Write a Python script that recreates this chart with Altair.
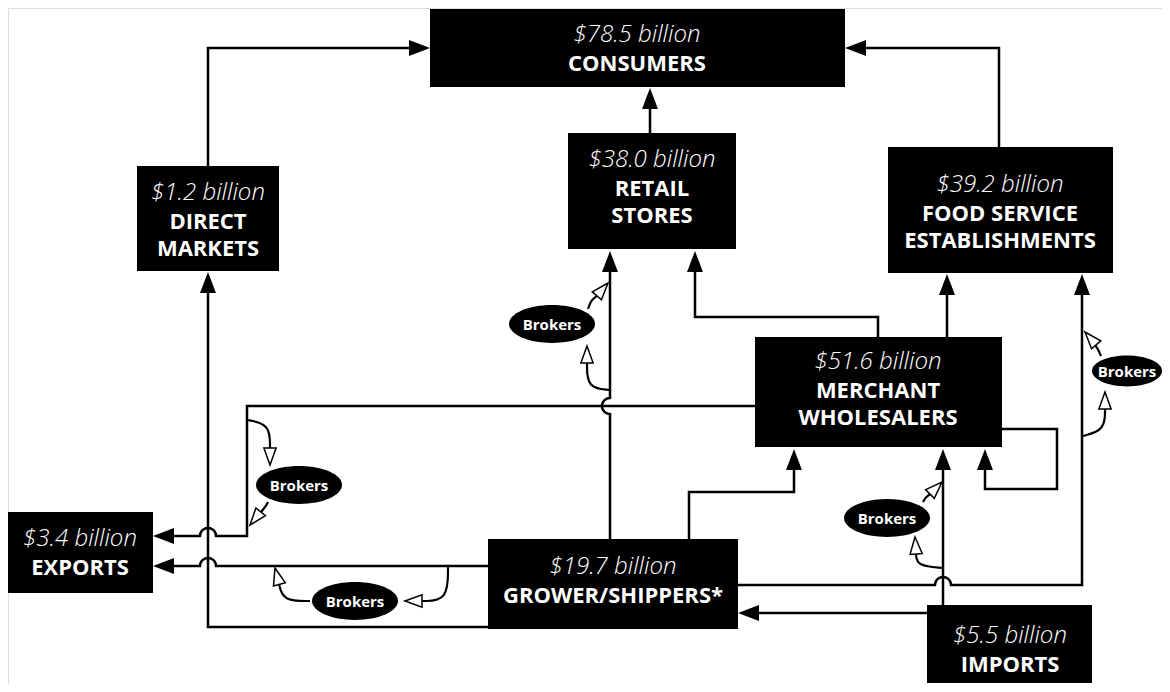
import altair as alt
import pandas as pd
import numpy as np

# ---------------- values shown in the chart ----------------
segments = ["CONSUMERS", "RETAIL STORES", "FOOD SERVICE ESTABLISHMENTS", "DIRECT MARKETS",
            "MERCHANT WHOLESALERS", "EXPORTS", "GROWER/SHIPPERS*", "IMPORTS"]
segment_lines = [["CONSUMERS"], ["RETAIL", "STORES"], ["FOOD SERVICE", "ESTABLISHMENTS"],
                 ["DIRECT", "MARKETS"], ["MERCHANT", "WHOLESALERS"], ["EXPORTS"],
                 ["GROWER/SHIPPERS*"], ["IMPORTS"]]
sales_billion = [78.5, 38.0, 39.2, 1.2, 51.6, 3.4, 19.7, 5.5]
broker_label = "Brokers"

# ---------------- diagram layout (pixel positions) ----------------
box_rect = [(430, 9, 845, 87), (568, 133, 736, 249), (888, 147, 1113, 273), (137, 166, 279, 271),
            (755, 337, 1002, 447), (7, 512, 153, 593), (488, 539, 738, 629), (927, 605, 1092, 683)]
box_label_at = [(637, 42), (652, 167), (1000, 192), (208, 200), (878, 369), (80, 546), (613, 574), (1010, 643)]

HOP_R = 8


def hhop(xc, y, left_to_right):
    t = np.linspace(np.pi, 0, 13) if left_to_right else np.linspace(0, np.pi, 13)
    return [(xc + HOP_R * np.cos(a), y - HOP_R * np.sin(a)) for a in t]


def vhop_up(x, yc):
    t = np.linspace(0, np.pi, 13)
    return [(x - HOP_R * np.sin(a), yc + HOP_R * np.cos(a)) for a in t]


flow_paths = {
    "dm_cons": [(208, 166), (208, 48), (420, 48)],
    "fs_cons": [(999, 147), (999, 48), (855, 48)],
    "ret_cons": [(650, 133), (650, 98)],
    "gr_dm": [(488, 627), (208, 627), (208, 282)],
    "gr_ret": [(610, 539)] + vhop_up(610, 406) + [(610, 261)],
    "mw_ret": [(878, 337), (878, 317), (695, 317), (695, 261)],
    "mw_fs": [(947, 337), (947, 284)],
    "gr_fs": [(738, 585)] + hhop(943, 585, True) + [(1082, 585), (1082, 284)],
    "mw_exp": [(755, 406), (247, 406), (247, 536)] + hhop(208, 536, False) + [(163, 536)],
    "gr_exp": [(488, 566)] + hhop(208, 566, False) + [(163, 566)],
    "gr_mw": [(689, 539), (689, 492), (794, 492), (794, 459)],
    "im_mw": [(943, 605), (943, 459)],
    "im_gr": [(927, 613), (748, 613)],
    "mw_loop": [(1002, 429), (1057, 429), (1057, 489), (985, 489), (985, 459)],
}

# filled arrow heads: tip x, tip y, angle (0 = up, clockwise)
solid_heads = [(430, 48, 90), (845, 48, 270), (650, 88, 0), (208, 272, 0), (610, 251, 0),
               (695, 251, 0), (947, 274, 0), (1082, 274, 0), (153, 536, 270), (153, 566, 270),
               (794, 449, 0), (943, 449, 0), (738, 613, 270), (985, 449, 0)]

broker_at = [(552, 324), (1127, 371), (299, 485), (355, 601), (887, 518)]
broker_w = [86, 70, 86, 86, 86]

# broker curves: start, control, end (end = base of open arrow head)
broker_curves = [
    [(610, 390), (587, 388), (587, 363)],
    [(588, 309), (591, 300), (597, 296)],
    [(1083, 436), (1105, 430), (1105, 409)],
    [(1101, 356), (1098, 349), (1095, 345)],
    [(247, 420), (270, 424), (270, 448)],
    [(268, 502), (266, 506), (261, 512)],
    [(448, 566), (448, 601), (422, 601)],
    [(310, 601), (283, 601), (279, 584)],
    [(943, 568), (917, 566), (916, 554)],
    [(923, 502), (926, 497), (930, 494)],
]
open_heads = [(587, 346, 0), (608, 283, 41), (1105, 392, 0), (1085, 332, 319), (270, 465, 180),
              (250, 525, 219), (405, 601, 270), (275, 568, 345), (915, 537, 356), (942, 482, 45)]

# ---------------- tables ----------------
boxes = pd.DataFrame([{"seg": s, "x": r[0], "x2": r[2], "y": r[1], "y2": r[3]}
                      for s, r in zip(segments, box_rect)])

val_rows, name_rows = [], []
for v, lines, (cx, cy) in zip(sales_billion, segment_lines, box_label_at):
    val_rows.append({"x": cx, "y": cy, "t": f"${v:.1f} billion"})
    for i, ln in enumerate(lines):
        name_rows.append({"x": cx, "y": cy + 29 + 27 * i, "t": ln})
vals = pd.DataFrame(val_rows)
names = pd.DataFrame(name_rows)

line_rows = []
for pid, pts in flow_paths.items():
    for i, (px, py) in enumerate(pts):
        line_rows.append({"p": pid, "o": i, "x": float(px), "y": float(py)})
lines_df = pd.DataFrame(line_rows)

curve_rows = []
for k, pts in enumerate(broker_curves):
    for i, (px, py) in enumerate(pts):
        curve_rows.append({"p": f"c{k}", "o": i, "x": px, "y": py})
curves_df = pd.DataFrame(curve_rows)

solid_df = pd.DataFrame([{"x": a, "y": b, "ang": c} for a, b, c in solid_heads])
open_df = pd.DataFrame([{"x": a, "y": b, "ang": c} for a, b, c in open_heads])
brok_df = pd.DataFrame([{"x": a, "y": b, "t": broker_label, "s": w * w}
                        for (a, b), w in zip(broker_at, broker_w)])

# ---------------- encodings ----------------
XS = alt.Scale(domain=[8, 1162], nice=False, zero=False)
YS = alt.Scale(domain=[8, 684], nice=False, zero=False, reverse=True)
X = alt.X("x:Q", scale=XS, axis=None)
Y = alt.Y("y:Q", scale=YS, axis=None)

ARROW = "M0,0L0.38,1L-0.38,1Z"
ARROW_OPEN = "M0,0L0.36,1L-0.36,1Z"
k = 0.44
c = 0.552
ELLIPSE = (f"M-1,0C-1,{-c*k:.3f} {-c:.3f},{-k} 0,{-k}C{c:.3f},{-k} 1,{-c*k:.3f} 1,0"
           f"C1,{c*k:.3f} {c:.3f},{k} 0,{k}C{-c:.3f},{k} -1,{c*k:.3f} -1,0Z")

FONT = "Open Sans"

flow = alt.Chart(lines_df).mark_line(color="black", strokeWidth=2.5, strokeJoin="miter").encode(
    x=X, y=Y, detail="p:N", order="o:Q")

curves = alt.Chart(curves_df).mark_line(color="black", strokeWidth=2.2, interpolate="basis").encode(
    x=X, y=Y, detail="p:N", order="o:Q")

rects = alt.Chart(boxes).mark_rect(color="black").encode(
    x=X, x2="x2:Q", y=Y, y2="y2:Q")

ellipses = alt.Chart(brok_df).mark_point(shape=ELLIPSE, filled=True, color="black",
                                         opacity=1).encode(
    x=X, y=Y, size=alt.Size("s:Q", scale=None))

solid = alt.Chart(solid_df).mark_point(shape=ARROW, filled=True, color="black", size=42 * 42,
                                       opacity=1).encode(
    x=X, y=Y, angle=alt.Angle("ang:Q", scale=None))

openh = alt.Chart(open_df).mark_point(shape=ARROW_OPEN, filled=True, fill="white", stroke="black",
                                      strokeWidth=1.5, size=34 * 34, opacity=1).encode(
    x=X, y=Y, angle=alt.Angle("ang:Q", scale=None))

val_text = alt.Chart(vals).mark_text(font=FONT, fontSize=24, fontStyle="italic", fontWeight=300,
                                     color="white", align="center", baseline="alphabetic").encode(
    x=X, y=Y, text="t:N")

name_text = alt.Chart(names).mark_text(font=FONT, fontSize=22, fontWeight="bold",
                                       color="white", align="center", baseline="alphabetic").encode(
    x=X, y=Y, text="t:N")

brok_text = alt.Chart(brok_df).mark_text(font=FONT, fontSize=15, fontWeight="bold", color="white",
                                         align="center", baseline="middle", dy=1).encode(
    x=X, y=Y, text="t:N")

chart = alt.layer(flow, curves, rects, ellipses, solid, openh, val_text, name_text, brok_text).properties(
    width=1154, height=676, padding=0, autosize=alt.AutoSizeParams(type="none")
).configure_view(stroke=None, strokeWidth=0).configure(background="white")

chart.save("out.html", embed_options={"renderer": "svg", "actions": False})
